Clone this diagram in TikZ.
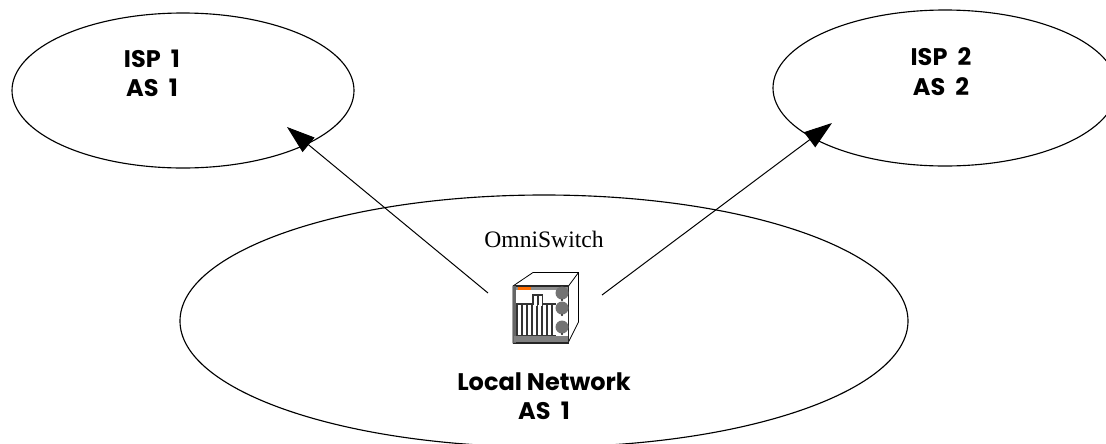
\documentclass[tikz,border=0pt]{standalone}
\usepackage{fontspec}
\setmainfont{Liberation Serif}
\newfontfamily\hfont{Poppins}
\usetikzlibrary{arrows.meta}
\tikzset{x=0.75pt,y=-0.75pt,
 cloud oval/.style={draw=black,line width=0.85pt,fill=none},
 boldlabel/.style={font=\hfont\bfseries\fontsize{18}{22}\selectfont,align=center,inner sep=0pt},
 link/.style={draw=black,line width=0.75pt,-{Triangle[length=21pt,width=14pt]}},
 sw/.style={draw=black,line width=0.6pt}}
\begin{document}
\begin{tikzpicture}
\useasboundingbox (0,0) rectangle (1106,443);
\clip (0,0) rectangle (1106,443);
\draw[cloud oval] (183,90.5) ellipse [x radius=171,y radius=77.5];
\draw[cloud oval] (945,88) ellipse [x radius=172,y radius=78];
\draw[cloud oval] (544,321) ellipse [x radius=364,y radius=126];
\fill[white] (460,435) rectangle (628,443);
\node[boldlabel] (isp1) at (152,73) {ISP\ \ 1\\AS\ \ 1};
\node[boldlabel] (isp2) at (941,71.5) {ISP\ \ 2\\AS\ \ 2};
\node[boldlabel] (local) at (544,396.5) {Local Network\\AS\ \ 1};
\node[font=\fontsize{17.7}{20}\selectfont,inner sep=0pt] (osw) at (544,239) {OmniSwitch};
\coordinate (a) at (488,293);
\coordinate (b) at (602,295);
\coordinate (ta) at (287,127);
\coordinate (tb) at (832,123);
\path[link] (a) -- (ta);
\path[link] (b) -- (tb);
% switch
\draw[sw,fill=white] (513,286) -- (533,272.5) -- (578.5,272.5) -- (578.5,322) -- (568,343) -- (513,343) -- cycle;
\draw[sw] (568.5,286) -- (578.5,272.5);
\draw[line width=1pt,draw=black!85] (513.5,286) rectangle (568.5,343);
\fill[black!60] (513,286) rectangle (516,343);
\fill[black!45] (516,287) rectangle (568,289.5);
\fill[orange!85!red] (518,287) rectangle (531,289.5);
\fill[black!80] (516,303) rectangle (556,336);
\fill[black!80] (532,294) rectangle (543,304);
\foreach \xx in {518,523,528,533,538,543,548,553}{\fill[white] (\xx,305) rectangle +(2.6,30);}
\fill[white] (534,296) rectangle +(3,10);
\fill[white] (539,296) rectangle +(3,10);
\fill[black!50] (514,336) rectangle (568,342);
\foreach \yy in {293,308,327}{\fill[black!55] (562,\yy) circle [radius=6.5];
 \fill[black!90] (562,\yy+7) circle [radius=1.2];}
\end{tikzpicture}
\end{document}
